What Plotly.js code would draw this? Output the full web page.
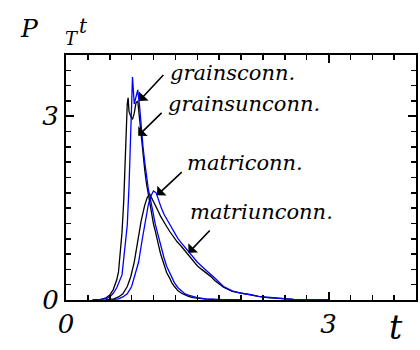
<!DOCTYPE html>
<html>
<head>
<meta charset="utf-8">
<script src="https://cdn.plot.ly/plotly-3.0.1.min.js"></script>
<style>
  html, body { margin: 0; padding: 0; background: #fff; }
  #chart { width: 420px; height: 350px; }
</style>
</head>
<body>
<div id="chart"></div>
<script>
// grains, black (sharp peak)
const grainsBlackT = [0.30, 0.40, 0.45, 0.50, 0.54, 0.58, 0.60, 0.62, 0.64, 0.66, 0.68, 0.70, 0.71, 0.72, 0.74, 0.76, 0.78, 0.80, 0.82, 0.84, 0.86, 0.88, 0.90, 0.92, 0.94, 0.96, 0.98, 1.00, 1.02, 1.04, 1.06, 1.08, 1.10, 1.12, 1.15, 1.18, 1.21, 1.24, 1.28, 1.32, 1.36, 1.40, 1.45, 1.50, 1.60, 1.70, 1.80, 2.00];
const grainsBlackP = [0.00, 0.01, 0.03, 0.08, 0.17, 0.33, 0.46, 0.78, 1.10, 1.62, 2.60, 3.20, 3.30, 3.08, 3.00, 2.95, 3.05, 3.22, 3.25, 2.95, 2.62, 2.36, 2.12, 1.90, 1.72, 1.53, 1.42, 1.24, 1.13, 0.98, 0.88, 0.76, 0.66, 0.58, 0.45, 0.37, 0.28, 0.22, 0.15, 0.11, 0.08, 0.06, 0.04, 0.03, 0.015, 0.008, 0.004, 0.00];

// grains, blue (sharp peak)
const grainsBlueT = [0.35, 0.45, 0.50, 0.54, 0.58, 0.62, 0.64, 0.66, 0.68, 0.70, 0.72, 0.74, 0.76, 0.78, 0.80, 0.82, 0.84, 0.86, 0.88, 0.90, 0.92, 0.94, 0.96, 0.98, 1.00, 1.02, 1.04, 1.06, 1.08, 1.10, 1.12, 1.15, 1.18, 1.21, 1.24, 1.28, 1.32, 1.36, 1.40, 1.45, 1.50, 1.60, 1.70, 1.80, 2.00];
const grainsBlueP = [0.00, 0.02, 0.05, 0.11, 0.20, 0.33, 0.41, 0.68, 0.95, 1.22, 1.85, 2.80, 3.64, 3.20, 3.30, 3.43, 3.18, 2.80, 2.50, 2.25, 2.02, 1.82, 1.68, 1.50, 1.39, 1.24, 1.13, 0.99, 0.91, 0.78, 0.69, 0.55, 0.45, 0.35, 0.28, 0.20, 0.15, 0.10, 0.08, 0.06, 0.04, 0.02, 0.01, 0.005, 0.00];

// matrix, black (broad peak)
const matriBlackT = [0.45, 0.55, 0.60, 0.65, 0.70, 0.74, 0.78, 0.82, 0.86, 0.90, 0.93, 0.96, 0.99, 1.02, 1.05, 1.08, 1.11, 1.15, 1.19, 1.23, 1.27, 1.31, 1.35, 1.40, 1.45, 1.50, 1.55, 1.60, 1.65, 1.70, 1.75, 1.80, 1.90, 2.00, 2.10, 2.20, 2.30, 2.40, 2.50, 2.60, 2.80, 3.00];
const matriBlackP = [0.00, 0.02, 0.05, 0.10, 0.22, 0.38, 0.62, 0.95, 1.30, 1.55, 1.68, 1.72, 1.64, 1.55, 1.46, 1.37, 1.29, 1.20, 1.11, 1.02, 0.95, 0.89, 0.82, 0.74, 0.65, 0.56, 0.50, 0.45, 0.39, 0.32, 0.26, 0.21, 0.14, 0.11, 0.08, 0.06, 0.04, 0.03, 0.02, 0.01, 0.005, 0.00];

// matrix, blue (broad peak)
const matriBlueT = [0.50, 0.60, 0.65, 0.70, 0.75, 0.79, 0.83, 0.87, 0.91, 0.94, 0.97, 1.00, 1.03, 1.06, 1.09, 1.12, 1.16, 1.20, 1.24, 1.28, 1.32, 1.36, 1.40, 1.45, 1.50, 1.55, 1.60, 1.65, 1.70, 1.75, 1.80, 1.90, 2.00, 2.10, 2.20, 2.30, 2.40, 2.50, 2.60, 2.80, 3.00];
const matriBlueP = [0.00, 0.02, 0.05, 0.10, 0.22, 0.40, 0.62, 0.98, 1.35, 1.55, 1.70, 1.78, 1.75, 1.62, 1.50, 1.40, 1.29, 1.20, 1.10, 1.00, 0.93, 0.86, 0.79, 0.71, 0.62, 0.55, 0.49, 0.42, 0.36, 0.29, 0.22, 0.15, 0.11, 0.09, 0.06, 0.045, 0.03, 0.02, 0.01, 0.005, 0.00];

// curve labels, where the text sits and where each arrow starts / ends
const labelText = ['grainsconn.', 'grainsunconn.', 'matriconn.', 'matriunconn.'];
const labelT    = [1.168, 1.145, 1.363, 1.397];
const labelP    = [3.70, 3.20, 2.23, 1.44];
const tipT      = [0.836, 0.825, 1.04, 1.40];
const tipP      = [3.25, 2.68, 1.71, 0.77];
const tailT     = [1.13, 1.11, 1.34, 1.66];
const tailP     = [3.70, 3.08, 2.11, 1.16];

// only 0 and 3 are labelled on both axes
const labelStep = 3;
const minorStep = 0.25;

// Liberation Serif has no italic face here, DejaVu Serif does
const serif = 'DejaVu Serif';
const it = s => '<i>' + s + '</i>';

const line = (t, p, c) => ({
  x: t, y: p, type: 'scatter', mode: 'lines',
  line: { color: c, width: 1.3 },
});

const traces = [
  line(matriBlackT, matriBlackP, '#000000'),
  line(matriBlueT, matriBlueP, '#0000ff'),
  line(grainsBlackT, grainsBlackP, '#000000'),
  line(grainsBlueT, grainsBlueP, '#0000ff'),
];

const annotations = [];
labelText.forEach((txt, i) => {
  annotations.push({
    x: labelT[i], y: labelP[i], xref: 'x', yref: 'y',
    text: it(txt), showarrow: false, xanchor: 'left', yanchor: 'middle',
    font: { family: serif, size: 21, color: '#000' },
  });
  annotations.push({
    x: tipT[i], y: tipP[i], ax: tailT[i], ay: tailP[i],
    xref: 'x', yref: 'y', axref: 'x', ayref: 'y',
    text: ' ', font: { size: 1 }, showarrow: true, arrowhead: 1, arrowsize: 1.4,
    arrowwidth: 1.6, arrowcolor: '#000',
  });
});

// axis titles, placed by hand like the original
const titleFont = (size) => ({ family: serif, size: size, color: '#000' });
annotations.push(
  { xref: 'paper', yref: 'paper', x: -0.103, y: 1.11, text: it('P'), showarrow: false,
    xanchor: 'center', yanchor: 'middle', font: titleFont(25) },
  { xref: 'paper', yref: 'paper', x: 0.017, y: 1.069, text: it('T'), showarrow: false,
    xanchor: 'center', yanchor: 'middle', font: titleFont(18) },
  { xref: 'paper', yref: 'paper', x: 0.049, y: 1.118, text: it('t'), showarrow: false,
    xanchor: 'center', yanchor: 'middle', font: titleFont(20) },
  { xref: 'paper', yref: 'paper', x: 0.943, y: -0.112, text: it('t'), showarrow: false,
    xanchor: 'center', yanchor: 'middle', font: titleFont(33) }
);

// fresh object per axis so nothing is shared between them
const makeAxis = () => ({
  range: [0, 4],
  tickmode: 'linear', tick0: 0, dtick: labelStep,
  showline: true, linecolor: '#000', linewidth: 2, mirror: 'ticks',
  ticks: 'inside', ticklen: 8, tickwidth: 2, tickcolor: '#000',
  showgrid: false, zeroline: false,
  tickfont: { family: serif, size: 26, style: 'italic', color: '#000' },
  minor: { tickmode: 'linear', tick0: 0, dtick: minorStep, ticks: 'inside',
           ticklen: 5, tickwidth: 1.5, tickcolor: '#000', showgrid: false },
});

const layout = {
  width: 420, height: 350,
  margin: { l: 66, r: 4, t: 55, b: 50 },
  paper_bgcolor: '#fff', plot_bgcolor: '#fff',
  showlegend: false,
  xaxis: makeAxis(),
  yaxis: makeAxis(),
  annotations: annotations,
};

Plotly.newPlot('chart', traces, layout, { displayModeBar: false, staticPlot: true });
</script>
</body>
</html>
